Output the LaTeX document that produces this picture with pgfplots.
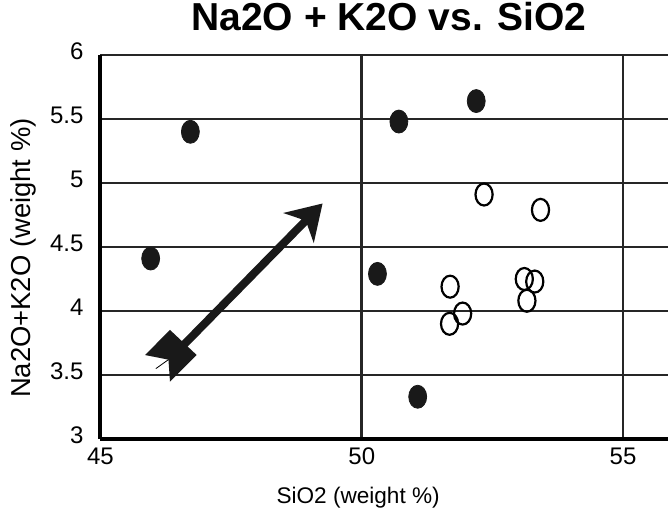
\documentclass[border=0pt]{standalone}
\usepackage{fontspec}
\setmainfont{Liberation Sans}
\usepackage{pgfplots}
\pgfplotsset{compat=1.18}
\usetikzlibrary{arrows.meta}

\begin{document}
\begin{tikzpicture}
\useasboundingbox (-50.25pt,-39.5pt) rectangle (283.75pt,219.5pt);
\begin{axis}[
  at={(0,0)}, anchor=south west,
  scale only axis, width=283.75pt, height=192pt,
  xmin=45, xmax=55.86, ymin=3, ymax=6,
  xtick={45,50,55}, ytick={3,3.5,4,4.5,5,5.5,6},
  axis x line*=bottom, axis y line*=left,
  axis line style={line width=2pt, black},
  grid=major, major grid style={line width=1.3pt, black!85},
  major tick length=0pt,
  tick label style={font=\fontsize{12}{14}\selectfont},
  /pgf/number format/assume math mode=true,
  xticklabel style={anchor=north, yshift=-1pt},
  yticklabel style={anchor=east, xshift=-5pt, yshift=2pt},
  every axis title shift=0pt,
  title={Na2O + K2O vs. SiO2},
  title style={at={(axis description cs:0.508,1.065)}, anchor=base,
    font=\bfseries\fontsize{19.5}{22}\selectfont},
  xlabel={SiO2 (weight \%)},
  ylabel={Na2O+K2O (weight \%)},
  every axis x label/.style={at={(axis description cs:0.454,-0.1667)}, anchor=base,
    font=\fontsize{11.3}{13}\selectfont},
  every axis y label/.style={at={(axis description cs:-0.1366,0.471)}, rotate=90, anchor=center,
    font=\fontsize{13.7}{16}\selectfont},
]
% filled symbols
\addplot[only marks, mark=*, mark size=5.75pt,
  mark options={xscale=0.78, fill=black!90, draw=black!90}]
  coordinates {(46.72,5.40) (45.96,4.41) (50.71,5.48) (52.19,5.64) (50.30,4.29) (51.07,3.33)};
% open symbols
\addplot[only marks, mark=o, mark size=5.5pt,
  mark options={xscale=0.78, draw=black, line width=1.1pt}]
  coordinates {(52.34,4.91) (53.42,4.79) (51.69,4.19) (51.93,3.98) (51.68,3.90)
               (53.11,4.25) (53.31,4.23) (53.16,4.08)};
% trend arrow
\addplot[line width=4pt, black!90, -{Stealth[length=17pt, width=21pt, inset=5pt]}]
  coordinates {(46.58,3.73) (49.25,4.84)};
\addplot[fill=black!90, draw=none]
  coordinates {(46.330,3.852) (46.841,3.656) (46.330,3.448) (46.30,3.62) (45.852,3.656)};
\addplot[black, line width=0.4pt] coordinates {(46.30,3.62) (46.06,3.55)};
\end{axis}
\end{tikzpicture}
\end{document}
